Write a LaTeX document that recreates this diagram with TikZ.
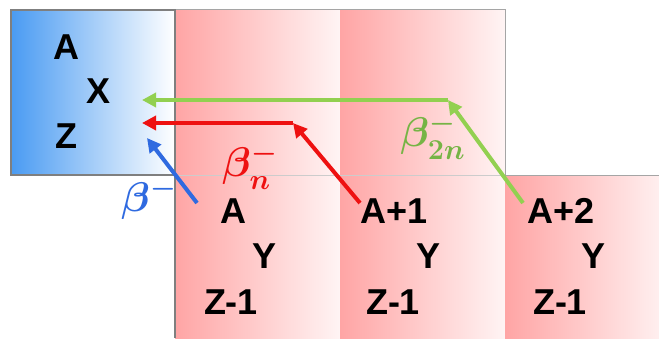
\documentclass[tikz,border=0pt]{standalone}
\usepackage{fontspec}
\setmainfont{Liberation Sans}
\usetikzlibrary{arrows.meta}
\definecolor{cellblue}{HTML}{4A9BF2}
\definecolor{cellred}{HTML}{FFA5A5}
\definecolor{cellpale}{HTML}{FFF4F4}
\definecolor{decayblue}{HTML}{2F6AE0}
\definecolor{decayred}{HTML}{EE1111}
\definecolor{decaygreen}{HTML}{92D050}
\definecolor{labelgreen}{HTML}{76B445}
\definecolor{rim}{HTML}{7F7F7F}

\tikzset{
  nuclide/.style={font=\bfseries\fontsize{18}{20}\selectfont,inner sep=1pt},
  decay/.style={line width=2pt,-{Triangle[length=7pt,width=7pt]}},
  decaylabel/.style={font=\fontsize{22}{26}\selectfont\boldmath,inner sep=0pt},
}

\begin{document}
\begin{tikzpicture}[x=0.5pt,y=0.5pt]
  \useasboundingbox (0,0) rectangle (659,338);

  % cells
  \shade[left color=cellblue,right color=white] (11,163) rectangle (175,328);
  \shade[left color=cellred,right color=cellpale] (175,163) rectangle (340,328);
  \shade[left color=cellred,right color=cellpale] (340,163) rectangle (505,328);
  \shade[left color=cellred,right color=cellpale] (175,0) rectangle (340,163);
  \shade[left color=cellred,right color=cellpale] (340,0) rectangle (505,163);
  \shade[left color=cellred,right color=cellpale] (505,0) rectangle (670,163);

  \draw[rim!70,line width=0.5pt] (175,328) -- (505,328) -- (505,163) -- (659,163);
  \draw[rim!40,line width=0.5pt] (175,163) -- (505,163);
  \draw[rim,line width=0.6pt] (175,163) -- (175,0);
  \draw[rim,line width=0.7pt] (11,163) rectangle (175,328);

  % parent
  \node[nuclide] (pa) at (66,291) {A};
  \node[nuclide] (px) at (99,247) {X};
  \node[nuclide] (pz) at (66,202) {Z};

  % daughters
  \node[nuclide] (d0a) at (233,127) {A};
  \node[nuclide] (d0y) at (265,82) {Y};
  \node[nuclide] (d0z) at (231,36) {Z-1};

  \node[nuclide] (d1a) at (394,127) {A+1};
  \node[nuclide] (d1y) at (429,82) {Y};
  \node[nuclide] (d1z) at (393,36) {Z-1};

  \node[nuclide] (d2a) at (561,127) {A+2};
  \node[nuclide] (d2y) at (593,82) {Y};
  \node[nuclide] (d2z) at (560,36) {Z-1};

  % decays
  \coordinate (bstart) at (197,135);
  \coordinate (btip) at (147,200);
  \coordinate (rstart) at (360,135);
  \coordinate (rbend) at (293,215);
  \coordinate (rtip) at (142,215);
  \coordinate (gstart) at (523,135);
  \coordinate (gbend) at (448,238);
  \coordinate (gtip) at (142,238);

  \draw[decay,decayblue] (bstart) -- (btip);
  \draw[decay,decayred] (rstart) -- (rbend);
  \draw[decay,decayred] (rbend) -- (rtip);
  \draw[decay,decaygreen] (gstart) -- (gbend);
  \draw[decay,decaygreen] (gbend) -- (gtip);

  \node[decaylabel,text=decayblue] (lb) at (149,139) {$\beta^-$};
  \node[decaylabel,text=decayred] (lbn) at (250,172) {$\beta^-_n$};
  \node[decaylabel,text=labelgreen] (lb2n) at (433,202) {$\beta^-_{2n}$};
\end{tikzpicture}
\end{document}
